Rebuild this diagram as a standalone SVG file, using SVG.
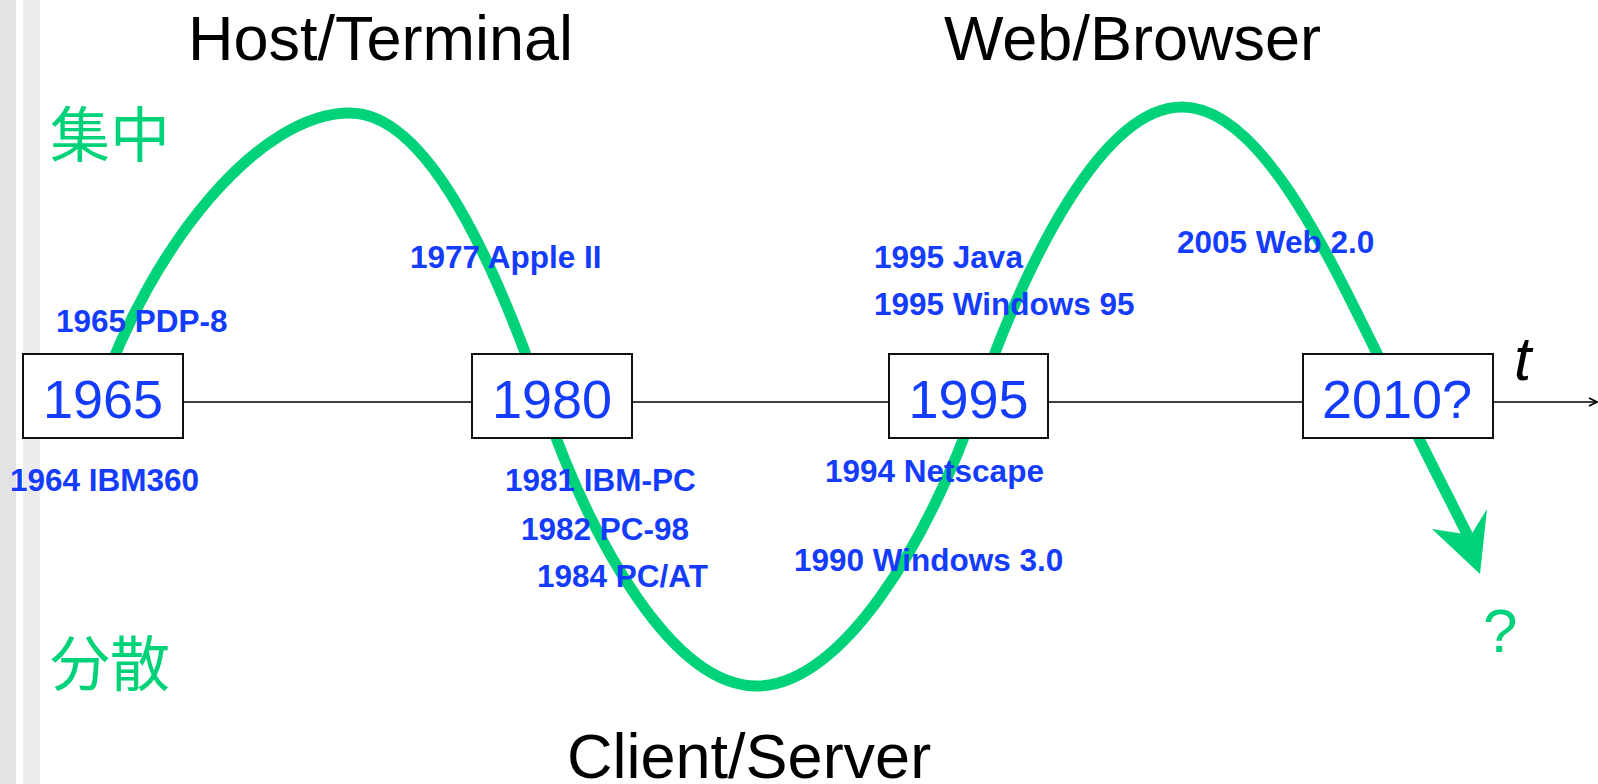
<svg xmlns="http://www.w3.org/2000/svg" width="1598" height="784" viewBox="0 0 1598 784">
<defs>
<style>
.title{font-family:"Liberation Sans",Arial,sans-serif;font-size:63px;fill:#000}
.yr{font-family:"Liberation Sans",Arial,sans-serif;font-size:54px;fill:#143cff;text-anchor:middle}
.lbl{font-family:"Liberation Sans",Arial,sans-serif;font-size:31.5px;font-weight:bold;fill:#143cff}
.zh{font-family:"Noto Sans CJK JP","Noto Sans CJK SC",sans-serif;font-size:60px;fill:#00d27a}
.box{fill:#fff;stroke:#111;stroke-width:2}
.wave{fill:none;stroke:#00d27a;stroke-width:11}
.axis{fill:none;stroke:#000;stroke-width:1.6}
</style>
<marker id="ah" viewBox="0 0 10 10" refX="9" refY="5" markerWidth="10" markerHeight="10" markerUnits="userSpaceOnUse" orient="auto">
<path d="M1,1 L9,5 L1,9" fill="none" stroke="#000" stroke-width="1.6"/>
</marker>
</defs>
<rect x="0" y="0" width="1598" height="784" fill="#fff"/>
<rect x="0" y="0" width="16" height="784" fill="#e3e3e3"/>
<rect x="23" y="0" width="17" height="784" fill="#ececec"/>
<g id="connectors">
<line class="axis" x1="183" y1="402" x2="1597" y2="402" marker-end="url(#ah)"/>
<path class="wave" d="M97,402 C152,242 260,113 350,113 C430,113 498,272 543,402 C591,541 672,686 757,686 C842,686 929,541 977,402 C1025,263 1102,107 1182,107 C1267,107 1338,277 1401,402 C1425,452 1447,494 1468,536"/>
<polygon points="1432,529 1471,535 1487,509 1480,574" fill="#00d27a"/>
</g>
<g id="node-1965"><rect class="box" x="23" y="354" width="160" height="84"/><text class="yr" x="103" y="418">1965</text></g>
<g id="node-1980"><rect class="box" x="472" y="354" width="160" height="84"/><text class="yr" x="552" y="418">1980</text></g>
<g id="node-1995"><rect class="box" x="889" y="354" width="159" height="84"/><text class="yr" x="968.5" y="418">1995</text></g>
<g id="node-2010"><rect class="box" x="1303" y="354" width="190" height="84"/><text class="yr" x="1397" y="418">2010?</text></g>
<g id="titles">
<text class="title" x="188" y="60">Host/Terminal</text>
<text class="title" x="944" y="60">Web/Browser</text>
<text class="title" x="567" y="778">Client/Server</text>
<text x="1514" y="380" font-family="Liberation Sans,Arial,sans-serif" font-size="62" font-style="italic" fill="#000">t</text>
<text x="1483" y="652" font-family="Liberation Sans,Arial,sans-serif" font-size="62" fill="#00d27a">?</text>
<text class="zh" x="50" y="157">集中</text>
<text class="zh" x="50" y="686">分散</text>
</g>
<g id="labels">
<text class="lbl" x="56" y="332">1965 PDP-8</text>
<text class="lbl" x="10" y="491">1964 IBM360</text>
<text class="lbl" x="410" y="268">1977 Apple II</text>
<text class="lbl" x="505" y="491">1981 IBM-PC</text>
<text class="lbl" x="521" y="540">1982 PC-98</text>
<text class="lbl" x="537" y="587">1984 PC/AT</text>
<text class="lbl" x="874" y="268">1995 Java</text>
<text class="lbl" x="874" y="315">1995 Windows 95</text>
<text class="lbl" x="1177" y="253">2005 Web 2.0</text>
<text class="lbl" x="825" y="482">1994 Netscape</text>
<text class="lbl" x="794" y="571">1990 Windows 3.0</text>
</g>
</svg>
